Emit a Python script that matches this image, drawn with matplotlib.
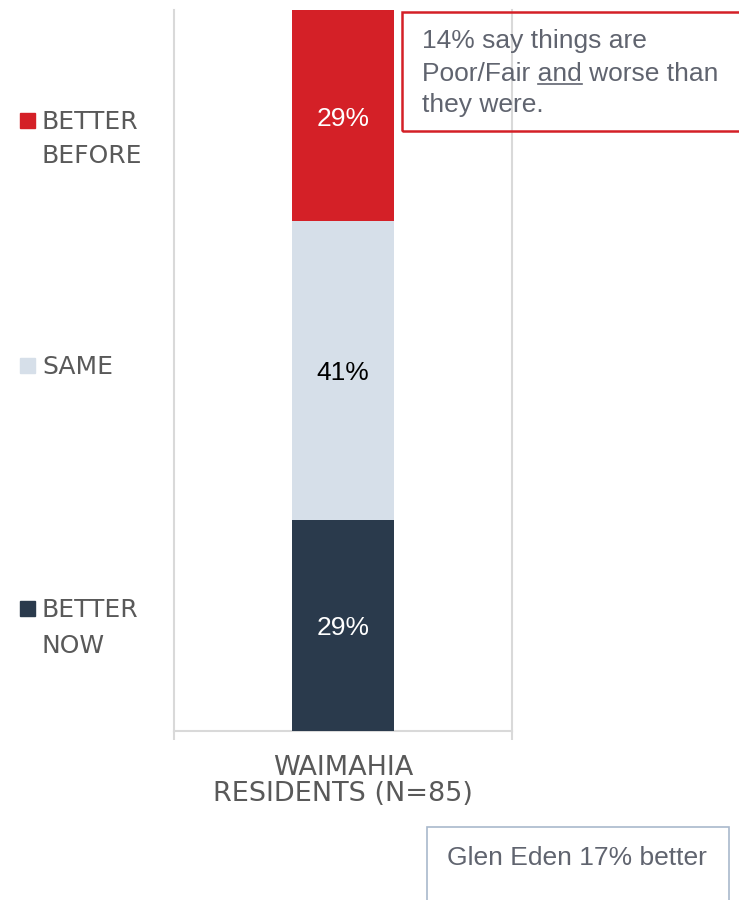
import matplotlib
matplotlib.use("Agg")
import matplotlib.pyplot as plt
from matplotlib.patches import Rectangle
from matplotlib.lines import Line2D

# data
categories = ["BETTER NOW", "SAME", "BETTER BEFORE"]
legend_lines = [["BETTER", "NOW"], ["SAME"], ["BETTER", "BEFORE"]]
values = [29, 41, 29]
colors = ["#2a3a4c", "#d6dfe9", "#d42027"]
label_colors = ["white", "black", "white"]
group_label = ["WAIMAHIA", "RESIDENTS (N=85)"]
note_top = ["14% say things are", "Poor/Fair and worse than", "they were."]
note_bottom = "Glen Eden 17% better"

W, H = 739, 900
fig = plt.figure(figsize=(W / 100, H / 100), dpi=100)


def fx(px):
    return px / W


def fy(py):
    return 1 - py / H


grid_col = "#d9d9d9"
text_gray = "#595959"
note_gray = "#60646f"

ax = fig.add_axes([fx(174), fy(731), fx(512) - fx(174), fy(10) - fy(731)])
bottom = 0
for v, c, lc in zip(values, colors, label_colors):
    ax.bar(0, v, bottom=bottom, width=0.302, color=c, edgecolor="none", zorder=3)
    ax.annotate(f"{v}%", (0, bottom + v / 2), xytext=(0, -7.2),
                textcoords="offset points", ha="center", va="baseline",
                fontsize=19, color=lc, family="Liberation Sans", zorder=4)
    bottom += v

ax.set_xlim(-0.5, 0.5)
ax.set_ylim(0, sum(values))
ax.spines["top"].set_visible(False)
for s in ["left", "right", "bottom"]:
    ax.spines[s].set_color(grid_col)
    ax.spines[s].set_linewidth(1.5)
ax.set_yticks([])
ax.set_xticks([])
ax.set_xticks([-0.5, 0.5], minor=True)
ax.tick_params(axis="x", which="minor", length=6.5, width=1.5, color=grid_col,
               labelbottom=False)

# category label under the bar
fig.text(fx(343), fy(775), group_label[0], ha="center", va="baseline",
         fontsize=19.5, color=text_gray, family="DejaVu Sans")
fig.text(fx(343), fy(801), group_label[1], ha="center", va="baseline",
         fontsize=19.5, color=text_gray, family="DejaVu Sans")

# legend on the left
legend_baselines = [[617, 653], [374], [129, 163]]
for lines, c, bases in zip(legend_lines, colors, legend_baselines):
    fig.patches.append(Rectangle((fx(20), fy(bases[0] - 1)), fx(15), 15 / H,
                                 transform=fig.transFigure, color=c))
    for line, b in zip(lines, bases):
        fig.text(fx(42), fy(b), line, ha="left", va="baseline",
                 fontsize=18, color=text_gray, family="DejaVu Sans")

# red note box
fig.patches.append(Rectangle((fx(402), fy(131)), fx(750) - fx(402), 119 / H,
                             transform=fig.transFigure, fill=False,
                             edgecolor="#d42027", linewidth=1.8))
note_bases = [48, 81, 112]
for line, b in zip(note_top, note_bases):
    fig.text(fx(422), fy(b), line, ha="left", va="baseline",
             fontsize=19, color=note_gray, family="Liberation Sans")

# underline "and"
fig.canvas.draw()
r = fig.canvas.get_renderer()
t1 = fig.text(fx(422), fy(81), "Poor/Fair and", ha="left", va="baseline",
              fontsize=19, family="Liberation Sans", alpha=0)
t2 = fig.text(fx(422), fy(81), "and", ha="left", va="baseline",
              fontsize=19, family="Liberation Sans", alpha=0)
e1 = t1.get_window_extent(r)
e2 = t2.get_window_extent(r)
x1 = e1.x1 / W
x0 = (e1.x1 - e2.width) / W
t1.remove()
t2.remove()
fig.lines.append(Line2D([x0, x1], [fy(84), fy(84)], transform=fig.transFigure,
                        color=note_gray, linewidth=1.2))

# bottom note box
fig.patches.append(Rectangle((fx(427), fy(910)), fx(729) - fx(427), 83 / H,
                             transform=fig.transFigure, fill=False,
                             edgecolor="#a9b9cc", linewidth=1.2))
fig.text(fx(447), fy(865), note_bottom, ha="left", va="baseline",
         fontsize=19, color=note_gray, family="Liberation Sans")

fig.savefig("out.png", dpi=100)
